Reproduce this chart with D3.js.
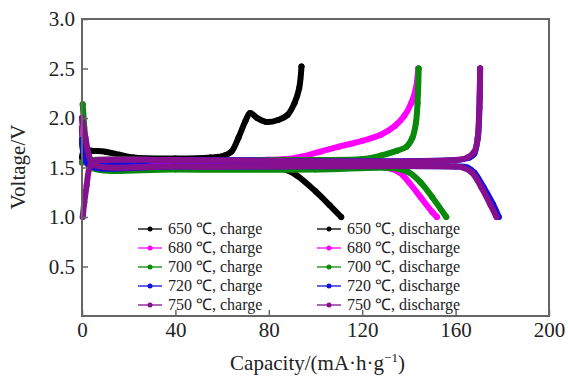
<!DOCTYPE html>
<html lang="en">
<head>
    <meta charset="UTF-8">
    <title>Charge / discharge curves</title>
    <script src="https://d3js.org/d3.v7.min.js"></script>
    <style>
        body { margin: 0; background: #fff; }
        .axis line { stroke: #666; stroke-width: 1.5; }
    </style>
</head>
<body>
<svg id="chart" width="568" height="378"></svg>
<script>
// [capacity mA·h/g, voltage V]
const c650 = [[0,1.6],[1,1.68],[4,1.67],[10,1.66],[16,1.63],[22,1.6],[40,1.59],[55,1.6],[61,1.62],[64,1.66],[67,1.8],[70,1.97],[72,2.05],[75,2.0],[79,1.96],[84,1.98],[88,2.03],[91,2.15],[93,2.3],[94,2.52]];
const d650 = [[0,1.9],[1,1.65],[3,1.55],[20,1.54],[60,1.52],[82,1.51],[87,1.48],[92,1.42],[100,1.26],[106,1.12],[111,1.0]];
const c680 = [[0,1.55],[2,1.57],[40,1.575],[80,1.578],[92,1.6],[102,1.66],[110,1.71],[120,1.77],[128,1.83],[134,1.92],[138,2.02],[141,2.15],[143,2.3],[144,2.5]];
const d680 = [[0,2.0],[1,1.7],[3,1.55],[40,1.52],[120,1.52],[130,1.5],[136,1.45],[140,1.35],[145,1.2],[150,1.05],[152,1.0]];
const c700 = [[0,1.55],[2,1.57],[40,1.575],[100,1.575],[120,1.585],[128,1.62],[135,1.67],[139,1.71],[141.5,1.8],[143,1.95],[143.7,2.15],[144.2,2.5]];
const d700 = [[0.3,2.14],[1,1.9],[2,1.6],[4,1.5],[40,1.48],[100,1.48],[135,1.49],[140,1.45],[145,1.35],[150,1.2],[156,1.0]];
const c720 = [[0,1.75],[1,1.62],[3,1.57],[40,1.575],[160,1.575],[166,1.6],[168,1.64],[169.5,1.8],[170.2,2.1],[170.5,2.5]];
const d720 = [[0,1.78],[1,1.62],[3,1.52],[40,1.51],[160,1.51],[165,1.5],[168,1.45],[172,1.3],[176,1.13],[178.5,1.0]];
const c750 = [[0.3,1.0],[1,1.15],[2,1.32],[3,1.48],[4.5,1.56],[8,1.575],[40,1.575],[160,1.575],[165,1.6],[168,1.66],[169.5,1.8],[170,2.0],[170.3,2.2],[170.5,2.5]];
const d750 = [[0,2.0],[1.5,1.8],[3,1.62],[5,1.53],[40,1.51],[160,1.51],[163,1.5],[167,1.45],[171,1.3],[175,1.12],[177.5,1.0]];

const temps = ["650", "680", "700", "720", "750"];
const colors = ["#000000", "#ff00ff", "#0a8a0a", "#1010e0", "#86108f"];
const chargeSets = [c650, c680, c700, c720, c750];
const dischargeSets = [d650, d680, d700, d720, d750];
const xTicks = [0, 40, 80, 120, 160, 200];
const yTicks = [0.5, 1.0, 1.5, 2.0, 2.5, 3.0];

const svg = d3.select("#chart");
const m = { left: 82, right: 549, top: 19, bottom: 316 };
const serif = "'Liberation Serif', 'Times New Roman', serif";

const x = d3.scaleLinear().domain([0, 200]).range([m.left, m.right]);
const y = d3.scaleLinear().domain([0, 3]).range([m.bottom, m.top]);

const lineXY = d3.line().x(d => x(d[0])).y(d => y(d[1])).curve(d3.curveCatmullRom);

// curves
temps.forEach((t, i) => {
    [chargeSets[i], dischargeSets[i]].forEach(set => {
        svg.append("path")
            .datum(set)
            .attr("d", lineXY)
            .attr("fill", "none")
            .attr("stroke", colors[i])
            .attr("stroke-width", 6)
            .attr("stroke-linejoin", "round")
            .attr("stroke-linecap", "round");
        svg.selectAll(null)
            .data(set)
            .enter().append("circle")
            .attr("cx", d => x(d[0]))
            .attr("cy", d => y(d[1]))
            .attr("r", 3)
            .attr("fill", colors[i]);
    });
});

// axes
const yAxis = svg.append("g")
    .attr("class", "axis")
    .attr("transform", `translate(${m.left},0)`)
    .call(d3.axisLeft(y).tickValues(yTicks).tickFormat(d3.format(".1f")).tickSize(-6).tickPadding(7));
yAxis.select(".domain").remove();

const xAxis = svg.append("g")
    .attr("class", "axis")
    .attr("transform", `translate(0,${m.bottom})`)
    .call(d3.axisBottom(x).tickValues(xTicks).tickSize(-6).tickPadding(6));
xAxis.select(".domain").remove();

svg.selectAll(".axis text")
    .style("font-family", serif)
    .style("font-size", "21px")
    .style("fill", "#222");

svg.append("rect")
    .attr("x", m.left).attr("y", m.top)
    .attr("width", m.right - m.left).attr("height", m.bottom - m.top)
    .attr("fill", "none")
    .attr("stroke", "#666")
    .attr("stroke-width", 2);

// legend
const legend = svg.append("g");
const cols = [{ lx: 138, label: "charge" }, { lx: 317, label: "discharge" }];
cols.forEach(col => {
    temps.forEach((t, i) => {
        const ly = 229 + i * 19;
        legend.append("line")
            .attr("x1", col.lx).attr("x2", col.lx + 24)
            .attr("y1", ly).attr("y2", ly)
            .attr("stroke", colors[i])
            .attr("stroke-width", 1.3);
        legend.append("circle")
            .attr("cx", col.lx + 12).attr("cy", ly)
            .attr("r", 2.5)
            .attr("fill", colors[i]);
        const txt = legend.append("text")
            .attr("x", col.lx + 30).attr("y", ly + 5)
            .style("font-family", serif)
            .style("font-size", "16px")
            .style("fill", "#222");
        txt.append("tspan").text(`${t} `);
        txt.append("tspan").text("\u2103");
        txt.append("tspan").text(`, ${col.label}`);
    });
});

// axis titles
svg.append("text")
    .attr("x", (m.left + m.right) / 2 + 2)
    .attr("y", 370)
    .attr("text-anchor", "middle")
    .style("font-family", serif)
    .style("font-size", "21px")
    .style("fill", "#222")
    .html('Capacity/(mA\u00b7h\u00b7g<tspan dy="-8" font-size="13">\u22121</tspan><tspan dy="8">)</tspan>');

svg.append("text")
    .attr("transform", "translate(25,167) rotate(-90)")
    .attr("text-anchor", "middle")
    .style("font-family", serif)
    .style("font-size", "21px")
    .style("fill", "#222")
    .text("Voltage/V");
</script>
</body>
</html>
